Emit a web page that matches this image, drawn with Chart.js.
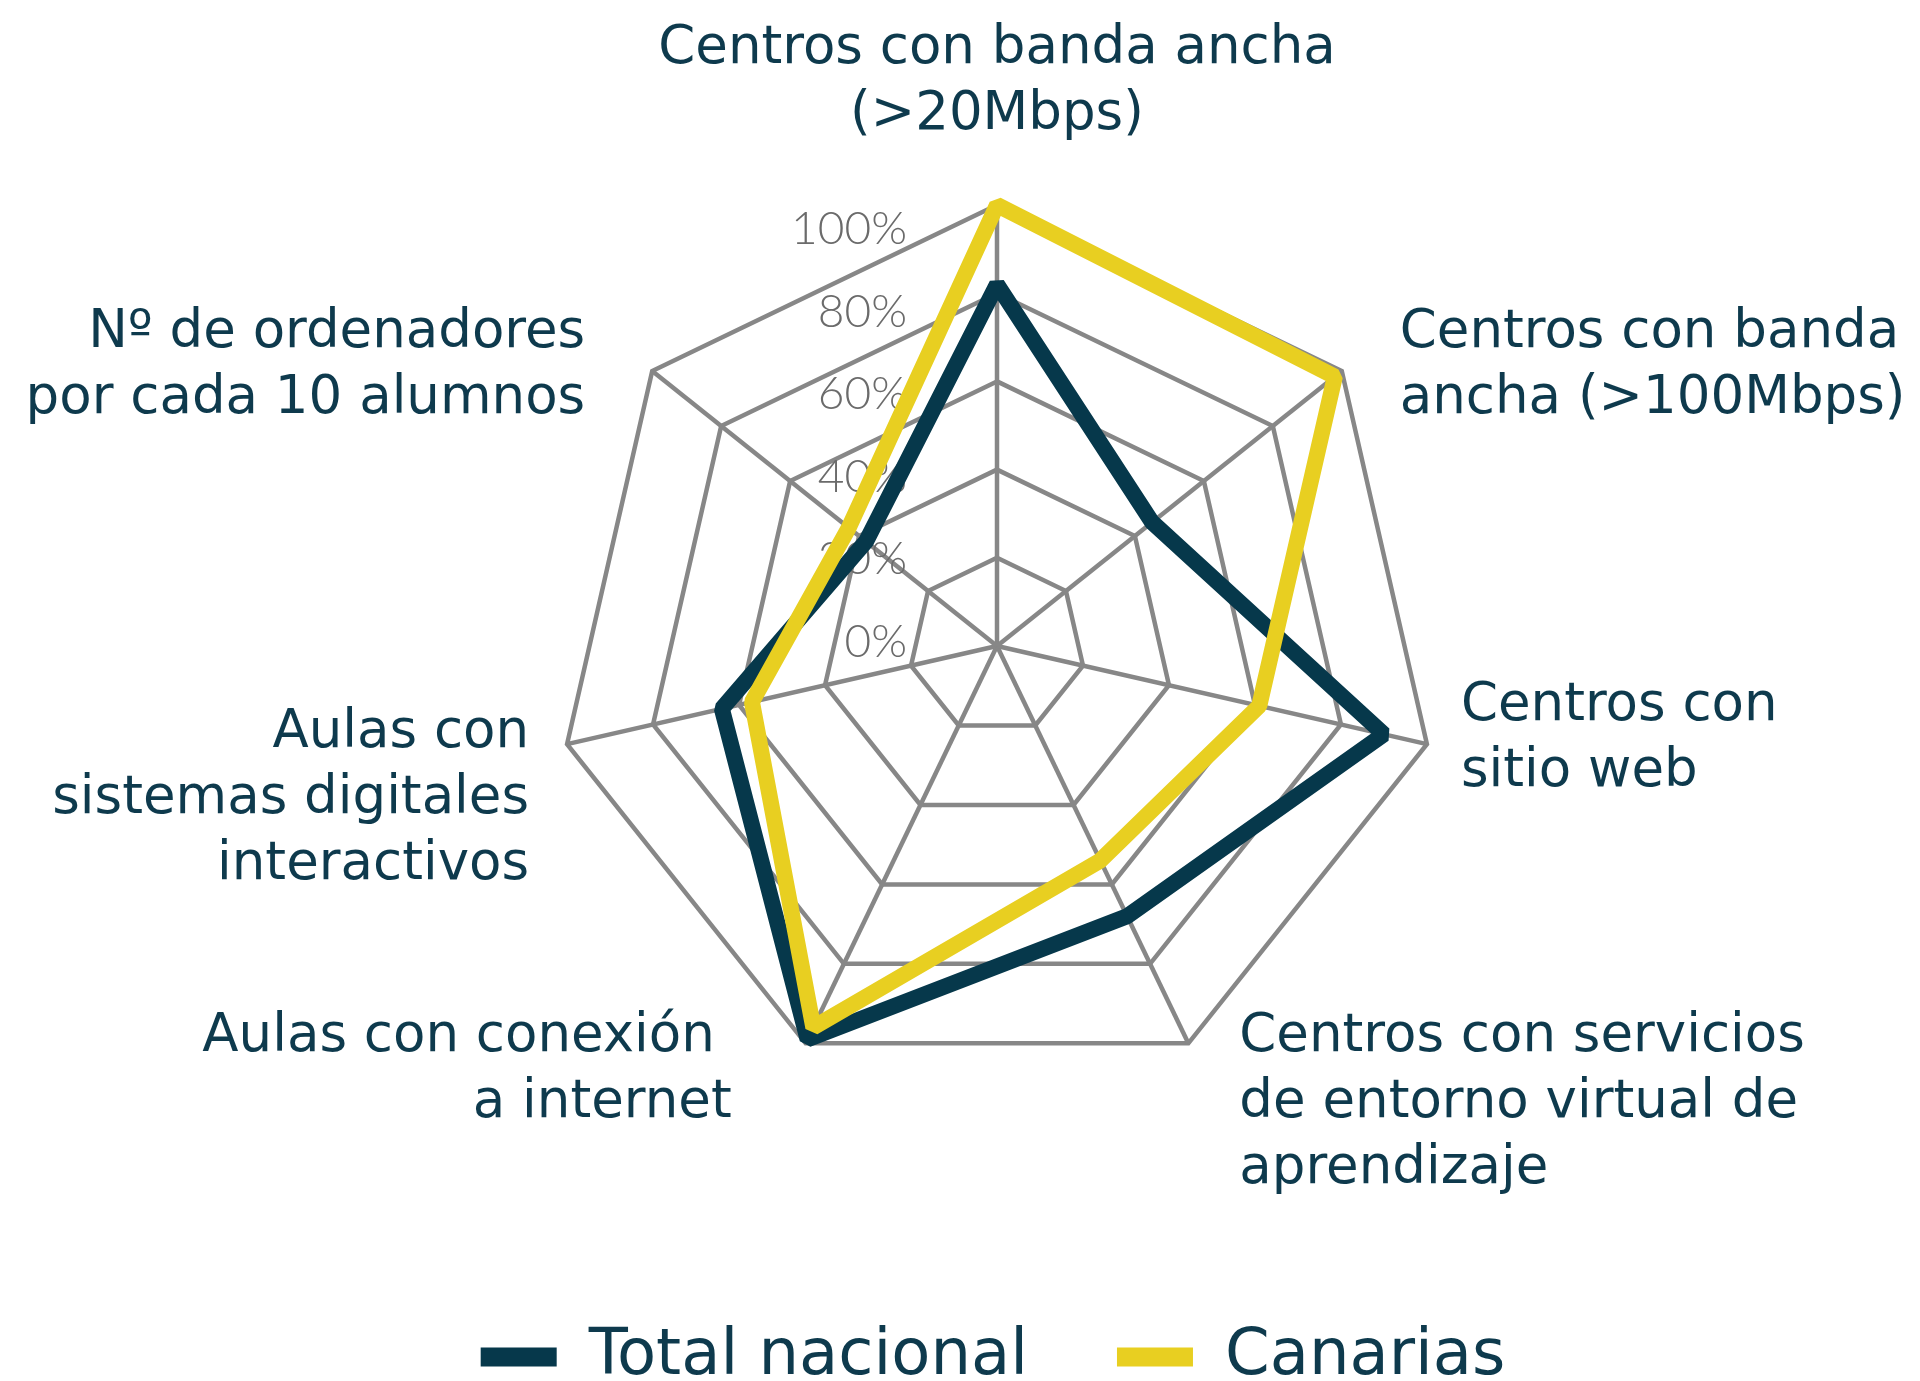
<!DOCTYPE html>
<html>
<head>
<meta charset="utf-8">
<script src="https://cdn.jsdelivr.net/npm/chart.js@4.4.1/dist/chart.umd.min.js"></script>
<style>
  html, body { margin: 0; padding: 0; background: #fff; }
</style>
</head>
<body>
<canvas id="radarChart" width="1920" height="1381"></canvas>
<script>
const categories = [
  ['Centros con banda ancha', '(>20Mbps)'],
  ['Centros con banda', 'ancha (>100Mbps)'],
  ['Centros con', 'sitio web'],
  ['Centros con servicios', 'de entorno virtual de', 'aprendizaje'],
  ['Aulas con conexión ', 'a internet'],
  ['Aulas con', 'sistemas digitales', 'interactivos'],
  ['Nº de ordenadores', 'por cada 10 alumnos']
];
const totalNacional = [82, 45, 90, 68, 99, 64, 38];
const canarias = [100, 98, 61, 54, 96, 57, 43];
const tickValues = [0, 20, 40, 60, 80, 100];
const tickLabels = ['0%', '20%', '40%', '60%', '80%', '100%'];

const navy = '#06384b';
const yellow = '#e8cf21';
const textColor = '#0e3a4d';
const gridGray = '#878787';

// axis titles: alignment and offset from the outer vertex of each axis
const labelPlacement = [
  { align: 'center', dx: 0, dy: -156 },
  { align: 'left', dx: 58, dy: -38 },
  { align: 'left', dx: 34, dy: -38 },
  { align: 'left', dx: 51, dy: -6 },
  { align: 'right', dx: -74, dy: -6 },
  { align: 'right', dx: -38, dy: -11 },
  { align: 'right', dx: -67, dy: -38 }
];

const radarText = {
  id: 'radarText',
  beforeDatasetsDraw(chart) {
    const r = chart.scales.r;
    const ctx = chart.ctx;
    ctx.save();
    ctx.font = '300 46px Lato';
    ctx.fillStyle = '#6b6b6b';
    ctx.textAlign = 'right';
    ctx.textBaseline = 'middle';
    tickValues.forEach((v, i) => {
      const d = r.getDistanceFromCenterForValue(v);
      ctx.fillText(tickLabels[i], r.xCenter - 90, r.yCenter - 4 - d * 0.935);
    });
    ctx.restore();
  },
  afterDraw(chart) {
    const r = chart.scales.r;
    const ctx = chart.ctx;
    ctx.save();
    ctx.font = '53px "DejaVu Sans"';
    ctx.fillStyle = textColor;
    ctx.textBaseline = 'middle';
    categories.forEach((lines, i) => {
      const p = r.getPointPosition(i, r.drawingArea);
      const pl = labelPlacement[i];
      ctx.textAlign = pl.align;
      lines.forEach((line, k) => {
        ctx.fillText(line, p.x + pl.dx, p.y + pl.dy + k * 66);
      });
    });
    ctx.restore();
  }
};

new Chart(document.getElementById('radarChart'), {
  type: 'radar',
  data: {
    labels: categories,
    datasets: [
      { label: 'Total nacional', data: totalNacional, borderColor: navy, backgroundColor: navy, order: 1 },
      { label: 'Canarias', data: canarias, borderColor: yellow, backgroundColor: yellow, order: 0 }
    ]
  },
  options: {
    responsive: false,
    animation: false,
    devicePixelRatio: 1,
    layout: { padding: { left: 66, right: 0, top: 0, bottom: -18 } },
    elements: {
      line: { borderWidth: 16, fill: false, tension: 0, borderJoinStyle: 'bevel' },
      point: { radius: 0, hoverRadius: 0 }
    },
    plugins: {
      tooltip: { enabled: false },
      legend: {
        position: 'bottom',
        labels: {
          boxWidth: 76,
          boxHeight: 19,
          padding: 89,
          color: textColor,
          font: { family: 'DejaVu Sans', size: 64 },
          generateLabels(chart) {
            return chart.data.datasets.map((ds, i) => ({
              text: ds.label,
              fillStyle: ds.borderColor,
              strokeStyle: ds.borderColor,
              fontColor: textColor,
              lineWidth: 0,
              hidden: false,
              datasetIndex: i
            }));
          }
        }
      }
    },
    scales: {
      r: {
        min: 0,
        max: 100,
        ticks: { display: false, stepSize: 20 },
        pointLabels: { display: false },
        grid: { color: gridGray, lineWidth: 4.5 },
        angleLines: { color: gridGray, lineWidth: 4.5 },
        afterFit(scale) {
          scale.xCenter = 997;
          scale.yCenter = 646;
          scale.drawingArea = 441;
        }
      }
    }
  },
  plugins: [radarText]
});
</script>
</body>
</html>
